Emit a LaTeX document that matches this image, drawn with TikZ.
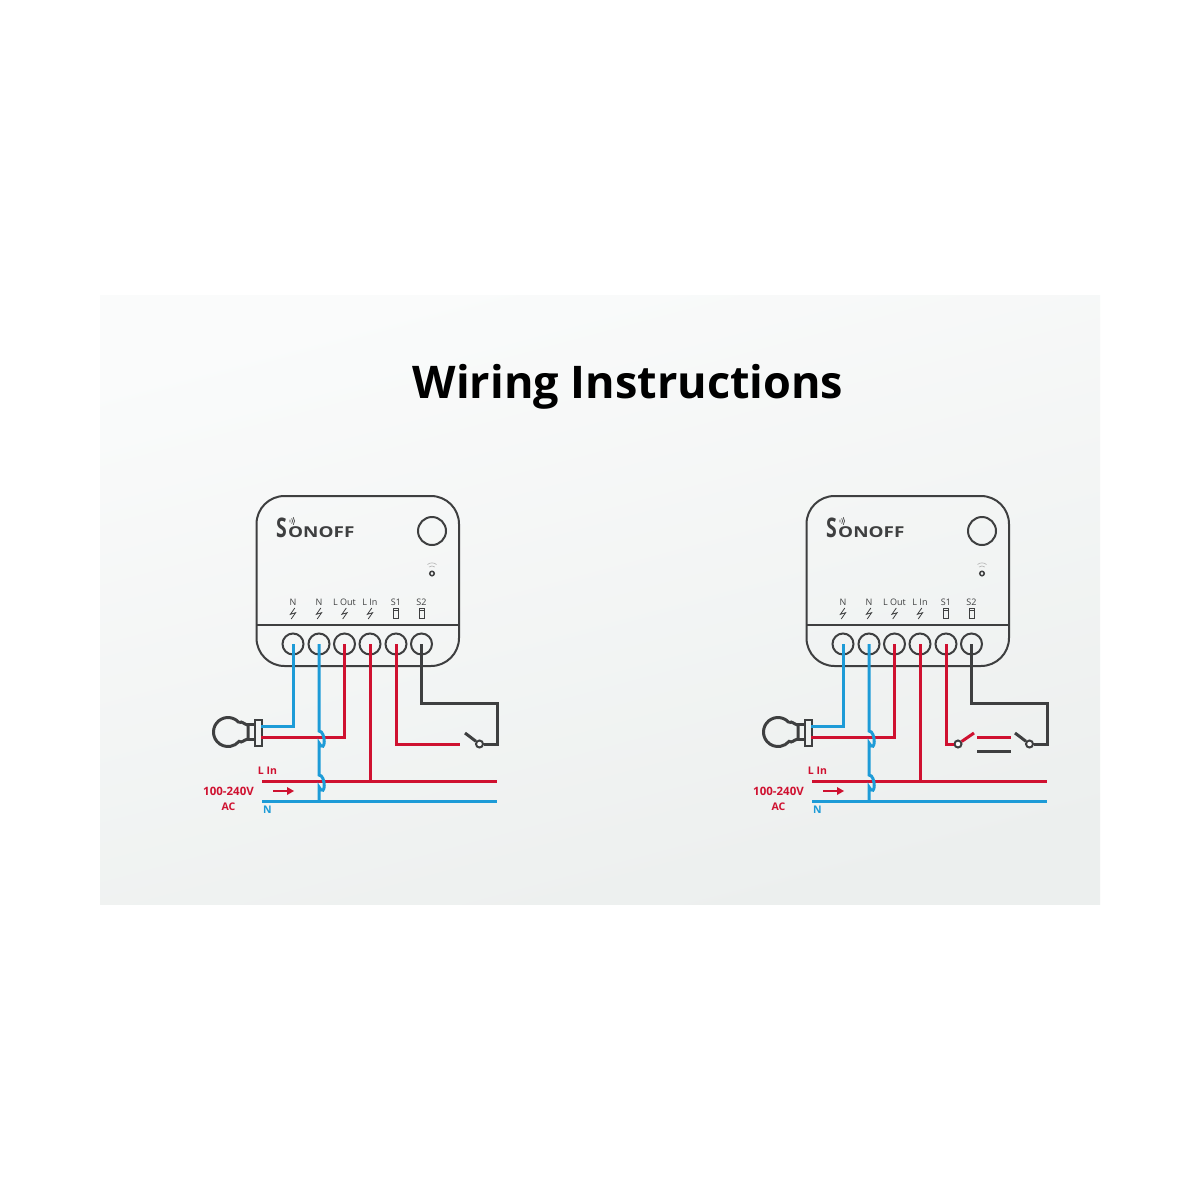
\documentclass[tikz,border=0pt]{standalone}
\usepackage{fontspec}
\setmainfont{Open Sans}
\usetikzlibrary{calc,positioning}
\definecolor{wirered}{HTML}{CF1130}
\definecolor{wireblue}{HTML}{1D9BD7}
\definecolor{wiregray}{HTML}{3E3F40}
\definecolor{panelhi}{HTML}{FAFBFB}
\definecolor{panello}{HTML}{ECEFEE}
\tikzset{
	redwire/.style={draw=wirered,line width=3pt},
	bluewire/.style={draw=wireblue,line width=3pt},
	graywire/.style={draw=wiregray,line width=3pt},
	outline/.style={draw=wiregray,line width=2pt},
	termin/.style={circle,draw=wiregray,line width=2pt,minimum size=21pt,inner sep=0pt},
	portlabel/.style={text=wiregray,font=\fontsize{9}{10}\selectfont,inner sep=0pt},
	redlabel/.style={text=wirered,font=\fontsize{10.5}{12}\selectfont\bfseries,inner sep=0pt},
	pivot/.style={circle,draw=wiregray,line width=2pt,fill=panelhi,minimum size=7pt,inner sep=0pt}
}
% lightning mark and push button mark under the port names
\newcommand{\boltmark}[1]{
	\draw[wiregray,line width=.8pt] ($(#1)+(1.8,-5.5)$) -- ($(#1)+(-2.6,.8)$) -- ($(#1)+(2.6,-.8)$) -- ($(#1)+(-1.8,5.5)$);
}
\newcommand{\buttonmark}[1]{
	\draw[wiregray,line width=.8pt] ($(#1)+(-2.6,-5)$) rectangle ($(#1)+(2.6,5)$);
	\draw[wiregray,line width=.6pt] ($(#1)+(-2.6,-3)$) -- ($(#1)+(2.6,-3)$);
}
% everything the two pictures share, #1 prefixes the names
\newcommand{\wiringbase}[1]{
	\draw[outline] (256.5,625) -- (459,625);
	\node[outline,rounded corners=28pt,minimum width=202.5pt,minimum height=170pt,inner sep=0pt] (#1box) at (357.75,581) {};
	\node[text=wiregray,font=\fontsize{27}{27}\selectfont\bfseries,inner sep=0pt,anchor=base west] (#1logoa) at (276,537.5) {\scalebox{.72}[1]{S}};
	\node[text=wiregray,font=\fontsize{15}{15}\selectfont\bfseries,inner sep=0pt,anchor=base west] (#1logob) at (288,537.5) {\scalebox{1.26}[1]{ONOFF}};
	\draw[wiregray,line width=.7pt] (290,519.6) arc (-35:35:2.5) (291.7,518.4) arc (-35:35:4.5) (293.3,517.3) arc (-35:35:6.5);
	\node[outline,circle,minimum size=28pt,inner sep=0pt] (#1knob) at (432,531) {};
	\node[circle,draw=wiregray,line width=1.5pt,minimum size=4.5pt,inner sep=0pt] (#1led) at (432,573.5) {};
	\draw[gray!60,line width=.6pt] (429,567) arc (-130:-50:4.5) (427.5,564.5) arc (-130:-50:7);
	\foreach \i/\x/\txt in {1/293/N,2/319/N,3/344.5/L Out,4/370/L In,5/396/S1,6/421.5/S2} {
		\node[termin] (#1t\i) at (\x,644) {};
		\node[portlabel] (#1p\i) at (\x,602) {\txt};
		\coordinate (#1m\i) at (\x,613.5);
	}
	\foreach \i in {1,2,3,4} {\boltmark{#1m\i}}
	\foreach \i in {5,6} {\buttonmark{#1m\i}}
	% lamp
	\draw[outline,line width=3pt] (239.1,722.7) arc (-40:-320:14.5) .. controls (242,743.5) and (244,739.5) .. (248,739) -- (248,725) .. controls (244,724.5) and (242,720.5) .. (239.1,722.7);
	\node[outline,line width=2.4pt,minimum width=7pt,minimum height=15pt,inner sep=0pt] (#1neck) at (251.5,732) {};
	\node[outline,line width=2.4pt,minimum width=7pt,minimum height=26pt,inner sep=0pt] (#1base) at (258.5,733) {};
	\coordinate (#1lampn) at (261,726);
	\coordinate (#1lampl) at (261,737);
	\coordinate (#1busla) at (262,781);
	\coordinate (#1buslb) at (497,781);
	\coordinate (#1busna) at (262,801);
	\coordinate (#1busnb) at (497,801);
	\draw[redwire] (#1busla) -- (#1buslb);
	\draw[bluewire] (#1busna) -- (#1busnb);
	\draw[redwire] (#1t3.center) |- (#1lampl);
	\draw[redwire] (#1t4.center) -- (#1t4.center |- #1busla);
	\draw[bluewire] (#1t1.center) |- (#1lampn);
	\draw[bluewire] (#1t2.center) -- ($(#1t2.center |- #1lampl)+(0,-6)$) .. controls +(7,0) and +(7,12) .. ++(0,12) -- ($(#1t2.center |- #1busla)+(0,-6)$) .. controls +(7,0) and +(7,12) .. ++(0,12) -- (#1t2.center |- #1busna);
	\node[redlabel] (#1lin) at (267.5,771) {L In};
	\node[redlabel,font=\fontsize{11.5}{12}\selectfont\bfseries] (#1volt) at (228.5,791.5) {100-240V};
	\node[redlabel] (#1ac) at (228.5,806.5) {AC};
	\node[text=wireblue,font=\fontsize{10.5}{12}\selectfont\bfseries,inner sep=0pt] (#1nlab) at (267.5,810) {N};
	\coordinate (#1fa) at (273,791);
	\coordinate (#1fb) at (294,791);
	\draw[wirered,line width=2pt] (#1fa) -- ($(#1fb)+(-5,0)$);
	\fill[wirered] (#1fb) -- ++(-7,-4) -- ++(0,8) -- cycle;
}
\begin{document}
\begin{tikzpicture}[x=1pt,y=-1pt]
	\useasboundingbox (0,0) rectangle (1200,1200);
	\fill[white] (0,0) rectangle (1200,1200);
	\shade[top color=panelhi,bottom color=panello,shading angle=15] (100,295) rectangle (1100,904);
	\node[font=\fontsize{45}{50}\selectfont\bfseries,inner sep=0pt,anchor=base] (title) at (628,398) {Wiring Instructions};

	\begin{scope}
		\wiringbase{a}
		\coordinate (sa) at (460,744);
		\coordinate (ca) at (497,703);
		\node[pivot] (pa) at (479.5,744) {};
		\coordinate (la) at (465,733);
		\draw[redwire] (at5.center) |- (sa);
		\draw[graywire] (at6.center) |- (ca) |- (pa);
		\draw[graywire] (pa) -- (la);
	\end{scope}

	\begin{scope}[xshift=550pt]
		\wiringbase{b}
		\node[pivot] (pb) at (408,744) {};
		\coordinate (lb) at (424,733);
		\draw[redwire] (bt5.center) |- (pb);
		\draw[redwire] (pb) -- (lb);
		\coordinate (ra) at (427,737);
		\coordinate (rb) at (461,737);
		\draw[redwire] (ra) -- (rb);
		\coordinate (ga) at (427,751);
		\coordinate (gb) at (461,751);
		\draw[graywire] (ga) -- (gb);
		\coordinate (cb) at (497,703);
		\node[pivot] (qb) at (479.5,744) {};
		\coordinate (mb) at (465,733);
		\draw[graywire] (bt6.center) |- (cb) |- (qb);
		\draw[graywire] (qb) -- (mb);
	\end{scope}
\end{tikzpicture}
\end{document}
